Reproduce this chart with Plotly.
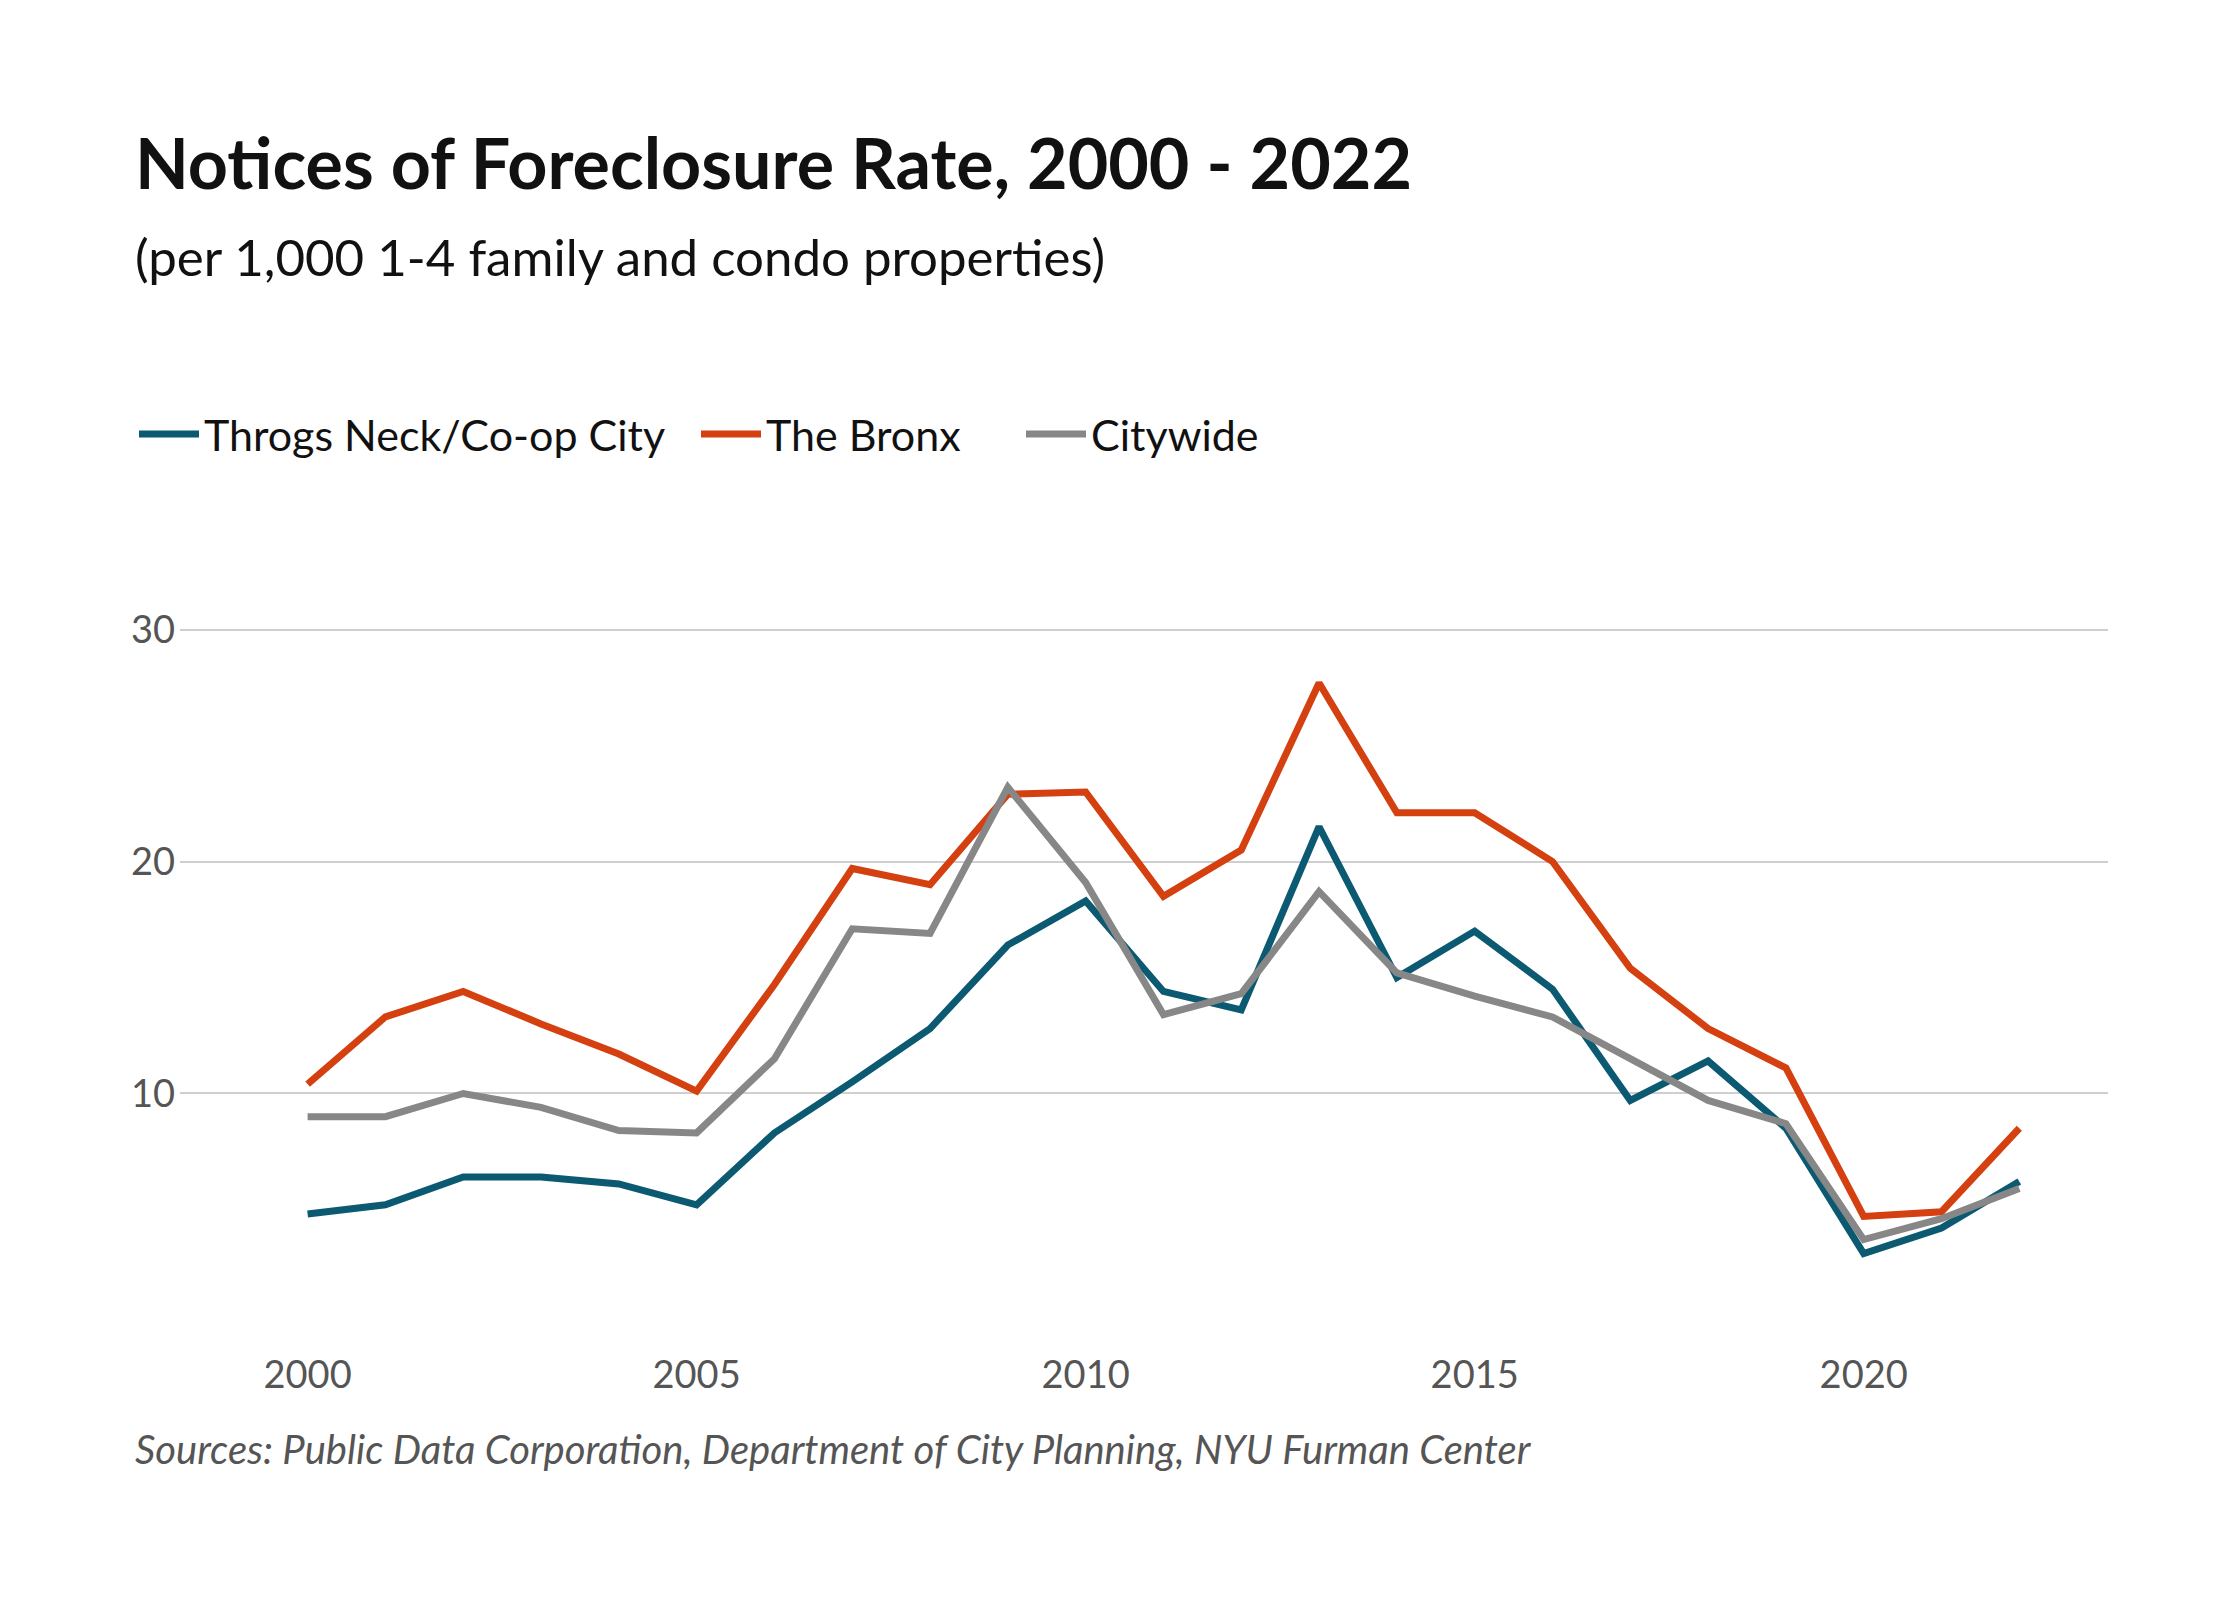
import plotly.graph_objects as go

years = list(range(2000, 2023))
throgs = [4.8,5.2,6.4,6.4,6.1,5.2,8.3,10.5,12.8,16.4,18.3,14.4,13.6,21.5,15.0,17.0,14.5,9.7,11.4,8.5,3.1,4.2,6.2]
bronx = [10.4,13.3,14.4,13.0,11.7,10.1,14.7,19.7,19.0,22.9,23.0,18.5,20.5,27.7,22.1,22.1,20.0,15.4,12.8,11.1,4.7,4.9,8.5]
city = [9.0,9.0,10.0,9.4,8.4,8.3,11.5,17.1,16.9,23.2,19.1,13.4,14.3,18.7,15.2,14.2,13.3,11.5,9.7,8.7,3.7,4.6,5.9]
names = ["Throgs Neck/Co-op City", "The Bronx", "Citywide"]
colors = ["#0b5a72", "#d4400f", "#878787"]
xticks = [2000, 2005, 2010, 2015, 2020]
yticks = [10, 20, 30]

W, H = 2240, 1600
L, R, T, B = 172, 140, 610, 271
pw, ph = W - L - R, H - T - B
def px(x): return (x - L) / pw
def py(y): return (H - B - y) / ph

legend_x = [126, 688, 1013]
fig = go.Figure()
for i, (n, s, c) in enumerate(zip(names, [throgs, bronx, city], colors)):
    fig.add_trace(go.Scatter(x=years, y=s, name=n, mode="lines",
                             line=dict(color=c, width=7),
                             legend="legend" if i == 0 else f"legend{i+1}"))

font = "Lato, Noto Sans, sans-serif"
leg = lambda i: dict(orientation="h", x=px(legend_x[i]), y=py(426), xanchor="left",
                     yanchor="middle", font=dict(size=43, color="#111"), itemwidth=60,
                     bgcolor="rgba(0,0,0,0)")
fig.update_layout(
    width=W, height=H, margin=dict(l=L, r=R, t=T, b=B),
    paper_bgcolor="white", plot_bgcolor="white",
    font=dict(family=font, color="#111"),
    showlegend=True,
    legend=leg(0), legend2=leg(1), legend3=leg(2),
    xaxis=dict(range=[1998.36, 2023.14], tickvals=xticks, showgrid=False, zeroline=False,
               showline=False, ticks="", tickfont=dict(size=38, color="#555"),
               ticklabelstandoff=12),
    yaxis=dict(range=[-0.5, 30.5], tickvals=yticks, showgrid=True, gridcolor="#cfcfcf",
               gridwidth=2, zeroline=False, showline=False, ticks="",
               tickfont=dict(size=38, color="#555"), ticklabelstandoff=4),
    annotations=[
        dict(text="<b>Notices of Foreclosure Rate, 2000 - 2022</b>", xref="paper", yref="paper",
             x=px(125), y=py(154), xanchor="left", yanchor="middle", showarrow=False,
             font=dict(size=70, color="#111")),
        dict(text="(per 1,000 1-4 family and condo properties)", xref="paper", yref="paper",
             x=px(125), y=py(249), xanchor="left", yanchor="middle", showarrow=False,
             font=dict(size=51, color="#111")),
        dict(text="<i>Sources: Public Data Corporation, Department of City Planning, NYU Furman Center</i>",
             xref="paper", yref="paper", x=px(125), y=py(1441), xanchor="left", yanchor="middle",
             showarrow=False, font=dict(size=40, color="#555")),
    ],
)
fig.write_html("out.html")
